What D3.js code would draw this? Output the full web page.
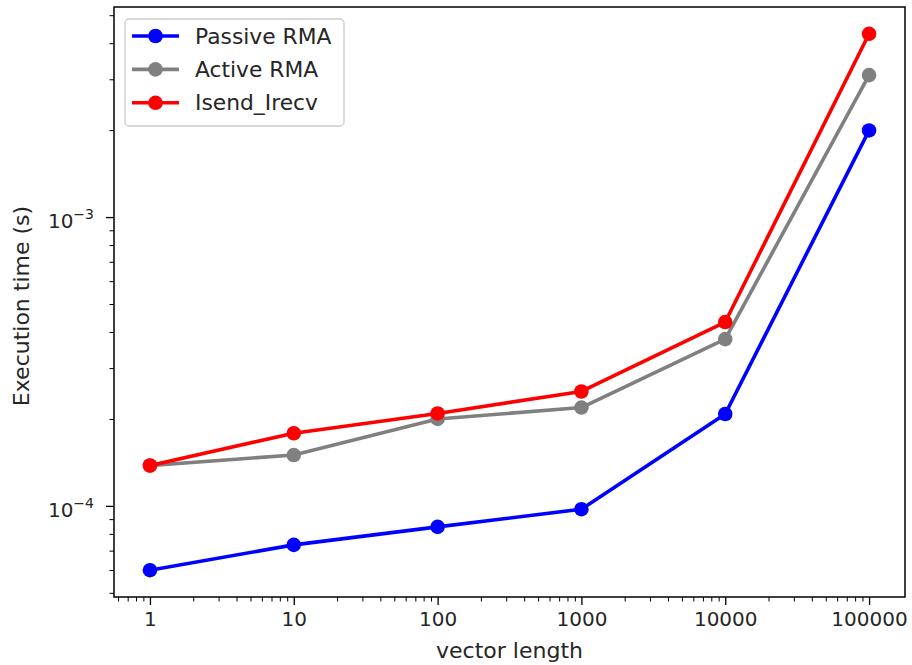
<!DOCTYPE html>
<html>
<head>
<meta charset="utf-8">
<script src="https://cdn.jsdelivr.net/npm/d3@7"></script>
<style>
  html, body { margin: 0; padding: 0; background: #fff; }
  svg { display: block; }
  text { font-family: "DejaVu Sans", sans-serif; fill: #262626; }
</style>
</head>
<body>
<svg id="chart" width="912" height="665"></svg>
<script>
// ---- data ----
const vectorLengths = [1, 10, 100, 1000, 10000, 100000];
const passiveRMA = [5.99e-5, 7.33e-5, 8.46e-5, 9.74e-5, 2.08e-4, 1.995e-3];
const activeRMA  = [1.38e-4, 1.50e-4, 2.00e-4, 2.19e-4, 3.78e-4, 3.10e-3];
const isendIrecv = [1.38e-4, 1.785e-4, 2.09e-4, 2.49e-4, 4.33e-4, 4.31e-3];
const seriesNames = ["Passive RMA", "Active RMA", "Isend_Irecv"];
const seriesColors = ["#0000ff", "#808080", "#ff0000"];
const xTickValues = [1, 10, 100, 1000, 10000, 100000];
const yTickValues = [1e-4, 1e-3];
const yTickExponents = ["\u22124", "\u22123"];

(function () {
const series = [passiveRMA, activeRMA, isendIrecv].map((vals, i) => ({
  name: seriesNames[i], color: seriesColors[i],
  points: vals.map((v, j) => ({ x: vectorLengths[j], y: v }))
}));

// ---- layout ----
const svg = d3.select("#chart");
const pLeft = 114, pRight = 905, pTop = 7, pBottom = 597;

function padLog(ext) {
  const a = Math.log10(ext[0]), b = Math.log10(ext[1]);
  const m = (b - a) * 0.05;
  return [Math.pow(10, a - m), Math.pow(10, b + m)];
}
const allY = [].concat(passiveRMA, activeRMA, isendIrecv);
const x = d3.scaleLog().domain(padLog(d3.extent(vectorLengths))).range([pLeft, pRight]);
const y = d3.scaleLog().domain(padLog(d3.extent(allY))).range([pBottom, pTop]);

const tickColor = "#000";

function minorTicks(scale) {
  const [d0, d1] = scale.domain();
  const out = [];
  for (let e = Math.floor(Math.log10(d0)); e <= Math.ceil(Math.log10(d1)); e++) {
    for (let k = 2; k <= 9; k++) {
      const v = k * Math.pow(10, e);
      if (v >= d0 && v <= d1) out.push(v);
    }
  }
  return out;
}

// X axis
const gx = svg.append("g").attr("transform", `translate(0,${pBottom})`);
gx.call(d3.axisBottom(x).tickValues(xTickValues).tickFormat(d3.format("d")).tickSize(8).tickPadding(7));
gx.call(g => g.select(".domain").remove());
gx.selectAll(".tick line").attr("stroke", tickColor).attr("stroke-width", 1.3);
gx.selectAll(".tick text").attr("font-size", 20).attr("font-family", "DejaVu Sans").attr("fill", "#262626");
const gxm = svg.append("g").attr("transform", `translate(0,${pBottom})`);
gxm.call(d3.axisBottom(x).tickValues(minorTicks(x)).tickFormat("").tickSize(4.5));
gxm.call(g => g.select(".domain").remove());
gxm.selectAll(".tick line").attr("stroke", tickColor).attr("stroke-width", 1);

// Y axis
const gy = svg.append("g").attr("transform", `translate(${pLeft},0)`);
gy.call(d3.axisLeft(y).tickValues(yTickValues).tickFormat("").tickSize(8));
gy.call(g => g.select(".domain").remove());
gy.selectAll(".tick line").attr("stroke", tickColor).attr("stroke-width", 1.3);
const gym = svg.append("g").attr("transform", `translate(${pLeft},0)`);
gym.call(d3.axisLeft(y).tickValues(minorTicks(y)).tickFormat("").tickSize(4.5));
gym.call(g => g.select(".domain").remove());
gym.selectAll(".tick line").attr("stroke", tickColor).attr("stroke-width", 1);

yTickValues.forEach((v, i) => {
  const t = svg.append("text")
    .attr("x", 94).attr("y", y(v) + 11)
    .attr("text-anchor", "end")
    .attr("font-size", 20);
  t.append("tspan").text("10");
  t.append("tspan").attr("font-size", 14).attr("dy", -9).text(yTickExponents[i]);
});

// frame
svg.append("rect")
  .attr("x", pLeft).attr("y", pTop).attr("width", pRight - pLeft).attr("height", pBottom - pTop)
  .attr("fill", "none").attr("stroke", "#000").attr("stroke-width", 1.5);

// axis labels
svg.append("text").attr("x", (pLeft + pRight) / 2).attr("y", 658)
  .attr("text-anchor", "middle").attr("font-size", 22).text("vector length");
svg.append("text")
  .attr("transform", `translate(29,${(pTop + pBottom) / 2 + 4}) rotate(-90)`)
  .attr("text-anchor", "middle").attr("font-size", 22).text("Execution time (s)");

// lines and markers
const line = d3.line().x(d => x(d.x)).y(d => y(d.y));
const plot = svg.append("g");
series.forEach(s => {
  plot.append("path").datum(s.points)
    .attr("d", line).attr("fill", "none")
    .attr("stroke", s.color).attr("stroke-width", 3.6)
    .attr("stroke-linejoin", "round").attr("stroke-linecap", "square");
  plot.selectAll(null).data(s.points).enter().append("circle")
    .attr("cx", d => x(d.x)).attr("cy", d => y(d.y)).attr("r", 7.3)
    .attr("fill", s.color);
});

// legend
const lg = svg.append("g");
lg.append("rect").attr("x", 125).attr("y", 19).attr("width", 219).attr("height", 107)
  .attr("rx", 4).attr("fill", "#fff").attr("fill-opacity", 0.8)
  .attr("stroke", "#cccccc").attr("stroke-width", 1.3);
series.forEach((s, i) => {
  const yy = 36 + i * 33.4;
  lg.append("line").attr("x1", 132).attr("x2", 179).attr("y1", yy).attr("y2", yy)
    .attr("stroke", s.color).attr("stroke-width", 3.6);
  lg.append("circle").attr("cx", 155.5).attr("cy", yy).attr("r", 7.3).attr("fill", s.color);
  lg.append("text").attr("x", 195).attr("y", yy + 7.5).attr("font-size", 21.8).text(s.name);
});
})();
</script>
</body>
</html>
